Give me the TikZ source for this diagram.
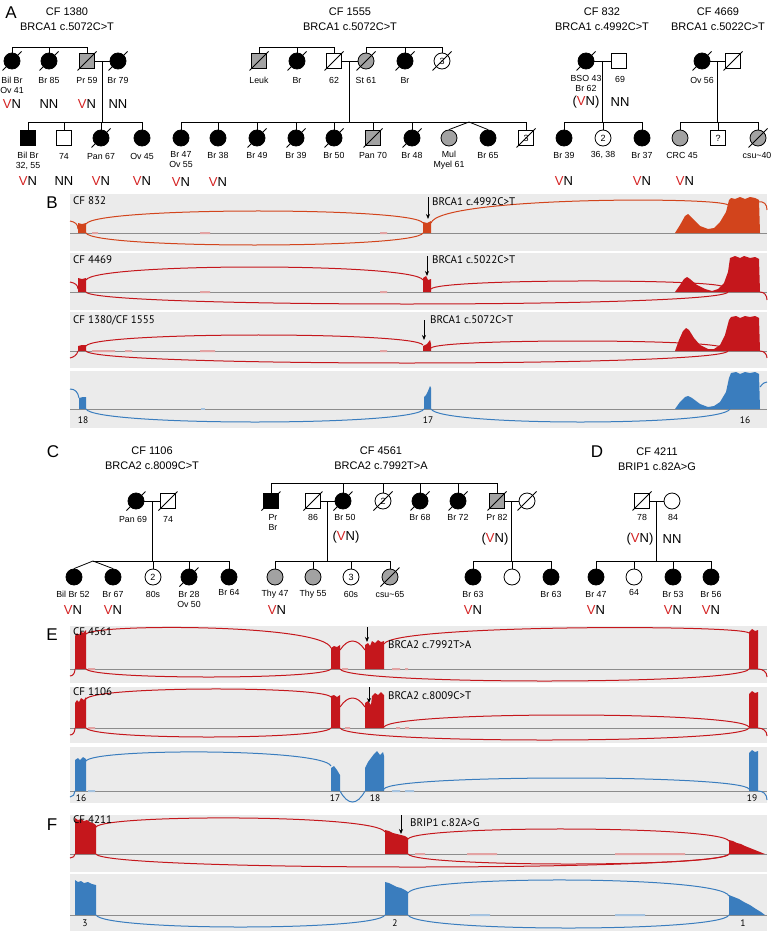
\documentclass[tikz,border=0pt]{standalone}
\usepackage{fontspec}
\setmainfont{Liberation Sans}
\newfontfamily\trkfont{PT Sans}
\usetikzlibrary{calc,arrows.meta}
\definecolor{trackbg}{HTML}{EBEBEB}
\definecolor{basec}{HTML}{8C8C8C}
\definecolor{rB}{HTML}{D2441C}
\definecolor{rr}{HTML}{C5171C}
\definecolor{bb}{HTML}{3A7DBE}
\definecolor{blipR}{HTML}{E3A3A3}
\definecolor{blipB}{HTML}{A5C3E0}
\definecolor{pedgrey}{HTML}{A2A2A2}
\definecolor{vred}{HTML}{D42222}
\tikzset{
 pl/.style={line width=0.8pt},
 male/.style={draw, line width=0.8pt, rectangle, minimum size=15.5pt, inner sep=0pt, fill=white, font=\fontsize{9}{9}\selectfont},
 fem/.style={draw, line width=0.8pt, circle, minimum size=16pt, inner sep=0pt, fill=white, font=\fontsize{9}{9}\selectfont},
 aff/.style={fill=black},
 gry/.style={fill=pedgrey},
 lab/.style={font=\fontsize{8.8}{10}\selectfont, inner sep=0pt, align=center},
 ttl/.style={font=\fontsize{11}{13}\selectfont, inner sep=0pt},
 vn/.style={font=\fontsize{13}{14}\selectfont, inner sep=0pt},
 plab/.style={font=\fontsize{17}{18}\selectfont, inner sep=0pt},
 tl/.style={font=\trkfont\fontsize{11}{12}\selectfont, inner sep=0pt, anchor=west},
 tn/.style={font=\trkfont\fontsize{9.5}{10}\selectfont, inner sep=0pt},
 arc/.style={line width=1pt},
 mut/.style={line width=0.8pt, -{Stealth[length=5pt,width=4pt]}},
}
\newcounter{nn}
\newcommand\Tx[3]{\stepcounter{nn}\edef\nname{t\arabic{nn}}\node[#1] (\nname) at (#2) {#3};}
\newcommand\vnV[1]{\Tx{vn}{#1}{\textcolor{vred}{V}N}}
\newcommand\vnP[1]{\Tx{vn}{#1}{(\textcolor{vred}{V}N)}}
\newcommand\vnN[1]{\Tx{vn}{#1}{NN}}
\newcommand\pdec[1]{\draw[pl] ([shift={(-9.5,9.5)}]#1.center) -- ([shift={(9.5,-9.5)}]#1.center);}
\newcommand\pup[2]{\draw[pl] (#1.north) -- (#1.north |- #2);}
\newcommand\jarc[6]{\pgfmathsetmacro\cyy{(4*(#6)-0.5*((#3)+(#5)))/3}\draw[arc,#1] (#2,#3) .. controls ({#2+8},\cyy) and ({#4-8},\cyy) .. (#4,#5);}
\newcommand\trackbox[3]{\fill[trackbg] (70,#1) rectangle (767,#2); \draw[basec, line width=0.6pt] (70,#3) -- (767,#3);}
\begin{document}
\begin{tikzpicture}[x=1pt,y=-1pt]
\useasboundingbox (0,0) rectangle (774,931);
\fill[white] (0,0) rectangle (774,931);
% ================= PANEL A =================
\Tx{plab}{11,13}{A}
% ---- CF 1380
\Tx{ttl}{67,12}{CF 1380}
\Tx{ttl}{67,27}{BRCA1 c.5072C>T}
\coordinate (Asib) at (0,47);
\coordinate (Akid) at (0,122);
\node[fem,aff] (a1) at (12,61) {};
\node[fem,aff] (a2) at (49,61) {};
\node[male,gry] (a3) at (87,61) {};
\node[fem,aff] (a4) at (118,61) {};
\node[male,aff] (a5) at (28,138) {};
\node[male] (a6) at (64,138) {};
\node[fem,aff] (a7) at (101,138) {};
\node[fem,aff] (a8) at (142,138) {};
\draw[pl] (a1.north |- Asib) -- (a3.north |- Asib);
\pup{a1}{Asib}\pup{a2}{Asib}\pup{a3}{Asib}
\draw[pl] (a3.east) -- (a4.west);
\coordinate (a34) at ($(a3.east)!0.5!(a4.west)$);
\draw[pl] (a34) -- (a34 |- Akid);
\draw[pl] (a5.north |- Akid) -- (a8.north |- Akid);
\pup{a5}{Akid}\pup{a6}{Akid}\pup{a7}{Akid}\pup{a8}{Akid}
\pdec{a1}\pdec{a2}\pdec{a3}\pdec{a4}\pdec{a7}
\Tx{lab}{12,85}{Bil Br\\Ov 41}
\Tx{lab}{49,80}{Br 85}
\Tx{lab}{87,80}{Pr 59}
\Tx{lab}{118,80}{Br 79}
\vnV{12,104}\vnN{49,104}\vnV{87,104}\vnN{118,104}
\Tx{lab}{28,161}{Bil Br\\32, 55}
\Tx{lab}{64,156}{74}
\Tx{lab}{101,156}{Pan 67}
\Tx{lab}{142,156}{Ov 45}
\vnV{28,181}\vnN{64,181}\vnV{101,181}\vnV{142,181}
% ---- CF 1555
\Tx{ttl}{350,12}{CF 1555}
\Tx{ttl}{350,27}{BRCA1 c.5072C>T}
\node[male,gry] (b1) at (259,61) {};
\node[fem,aff] (b2) at (297,61) {};
\node[male] (b3) at (334,61) {};
\node[fem,gry] (b4) at (366,61) {};
\node[fem,aff] (b5) at (405,61) {};
\node[fem] (b6) at (442,61) {3};
\node[fem,aff] (b7) at (181,138) {};
\node[fem,aff] (b8) at (218,138) {};
\node[fem,aff] (b9) at (257,138) {};
\node[fem,aff] (b10) at (296,138) {};
\node[fem,aff] (b11) at (334,138) {};
\node[male,gry] (b12) at (373,138) {};
\node[fem,aff] (b13) at (412,138) {};
\node[fem,gry] (b14) at (449,138) {};
\node[fem,aff] (b15) at (488,138) {};
\node[male] (b16) at (526,138) {3};
\draw[pl] (b1.north |- Asib) -- (b3.north |- Asib);
\draw[pl] (b4.north |- Asib) -- (b6.north |- Asib);
\pup{b1}{Asib}\pup{b2}{Asib}\pup{b3}{Asib}\pup{b4}{Asib}\pup{b5}{Asib}\pup{b6}{Asib}
\draw[pl] (b3.east) -- (b4.west);
\coordinate (b34) at ($(b3.east)!0.5!(b4.west)$);
\draw[pl] (b34) -- (b34 |- Akid);
\draw[pl] (b7.north |- Akid) -- (b16.north |- Akid);
\pup{b7}{Akid}\pup{b8}{Akid}\pup{b9}{Akid}\pup{b10}{Akid}\pup{b11}{Akid}\pup{b12}{Akid}\pup{b13}{Akid}\pup{b16}{Akid}
\coordinate (btw) at (469,122);
\draw[pl] (b14.north) -- (btw) -- (b15.north);
\pdec{b1}\pdec{b2}\pdec{b3}\pdec{b4}\pdec{b5}\pdec{b6}\pdec{b9}\pdec{b10}\pdec{b11}\pdec{b12}\pdec{b13}\pdec{b16}
\Tx{lab}{259,80}{Leuk}
\Tx{lab}{297,80}{Br}
\Tx{lab}{334,80}{62}
\Tx{lab}{366,80}{St 61}
\Tx{lab}{405,80}{Br}
\Tx{lab}{181,160}{Br 47\\Ov 55}
\Tx{lab}{218,155}{Br 38}
\Tx{lab}{257,155}{Br 49}
\Tx{lab}{296,155}{Br 39}
\Tx{lab}{334,155}{Br 50}
\Tx{lab}{373,155}{Pan 70}
\Tx{lab}{412,155}{Br 48}
\Tx{lab}{449,160}{Mul\\Myel 61}
\Tx{lab}{488,155}{Br 65}
\vnV{181,182}\vnV{218,182}
% ---- CF 832
\Tx{ttl}{602,12}{CF 832}
\Tx{ttl}{602,27}{BRCA1 c.4992C>T}
\node[fem,aff] (c1) at (586,61) {};
\node[male] (c2) at (619,61) {};
\node[fem,aff] (c3) at (564,138) {};
\node[fem] (c4) at (603,138) {2};
\node[fem,aff] (c5) at (642,138) {};
\draw[pl] (c1.east) -- (c2.west);
\coordinate (c12) at ($(c1.east)!0.5!(c2.west)$);
\draw[pl] (c12) -- (c12 |- Akid);
\draw[pl] (c3.north |- Akid) -- (c5.north |- Akid);
\pup{c3}{Akid}\pup{c4}{Akid}\pup{c5}{Akid}
\pdec{c1}
\Tx{lab}{586,83.5}{BSO 43\\Br 62}
\Tx{lab}{620,79}{69}
\vnP{586,102}\vnN{620,102}
\Tx{lab}{564,155}{Br 39}
\Tx{lab}{603,155}{36, 38}
\Tx{lab}{642,155}{Br 37}
\vnV{564,181}\vnV{642,181}
% ---- CF 4669
\Tx{ttl}{718,12}{CF 4669}
\Tx{ttl}{718,27}{BRCA1 c.5022C>T}
\node[fem,aff] (d1) at (702,61) {};
\node[male] (d2) at (733,61) {};
\node[fem,gry] (d3) at (680,138) {};
\node[male] (d4) at (718,138) {?};
\node[fem,gry] (d5) at (758,138) {};
\draw[pl] (d1.east) -- (d2.west);
\coordinate (d12) at ($(d1.east)!0.5!(d2.west)$);
\draw[pl] (d12) -- (d12 |- Akid);
\draw[pl] (d3.north |- Akid) -- (d5.north |- Akid);
\pup{d3}{Akid}\pup{d4}{Akid}\pup{d5}{Akid}
\pdec{d1}\pdec{d2}\pdec{d5}
\Tx{lab}{702,80}{Ov 56}
\Tx{lab}{682,155}{CRC 45}
\Tx{lab}{757,155}{csu\textasciitilde 40}
\vnV{685,181}
% ================= PANEL B =================
\Tx{plab}{52,203}{B}
% B1
\trackbox{194}{251}{233}
\fill[blipR] (92,232) rectangle (98,234) (200,232) rectangle (210,234) (380,232) rectangle (387,234);
\fill[rB] (78,233) -- (78,223) -- (82,224) -- (86,223) -- (86,233) -- cycle;
\fill[rB] (423,233) -- (423,222) -- (427,223) -- (431,221) -- (431,233) -- cycle;
\fill[rB] (675,233) -- (680,225) -- (685,216) -- (688,214) -- (692,218) -- (700,226) -- (708,229) -- (714,228) -- (720,222) -- (726,212) -- (729,200) -- (731,198) -- (735,199) -- (740,197) -- (745,199) -- (750,197) -- (755,198) -- (759,200) -- (760,233) -- cycle;
\jarc{rB}{86}{224}{423}{223}{211}
\jarc{rB}{86}{233}{423}{233}{245}
\jarc{rB}{431}{223}{728}{205}{201}
\draw[arc,rB] (70,221) .. controls (75,222) and (78,224) .. (78,229);
\draw[arc,rB] (758,202) .. controls (764,201) and (767,204) .. (767,210);
\Tx{tl}{73,201}{CF 832}
\coordinate (m1s) at (428,197); \coordinate (m1e) at (428,219);
\draw[mut] (m1s) -- (m1e);
\Tx{tl}{432,202}{BRCA1 c.4992C>T}
% B2
\trackbox{253}{310}{292}
\fill[blipR] (200,291) rectangle (210,293) (380,291) rectangle (387,293);
\fill[rr] (78,292) -- (78,278) -- (82,279) -- (86,278) -- (86,292) -- cycle;
\fill[rr] (423,292) -- (423,278) -- (426,276) -- (428,280) -- (431,279) -- (431,292) -- cycle;
\fill[rr] (675,292) -- (680,285) -- (684,279) -- (687,277) -- (690,279) -- (697,285) -- (705,289) -- (712,291) -- (718,289) -- (724,283) -- (728,272) -- (730,258) -- (735,256) -- (740,258) -- (744,256) -- (750,258) -- (755,257) -- (759,259) -- (760,292) -- cycle;
\jarc{rr}{86}{280}{423}{280}{267}
\jarc{rr}{431}{289}{724}{287}{281}
\jarc{rr}{86}{292}{728}{292}{304}
\draw[arc,rr] (70,282) .. controls (75,283) and (78,285) .. (78,289);
\draw[arc,rr] (760,292) .. controls (764,292) and (767,295) .. (767,300);
\Tx{tl}{73,260}{CF 4469}
\coordinate (m2s) at (427,256); \coordinate (m2e) at (427,276);
\draw[mut] (m2s) -- (m2e);
\Tx{tl}{432,260}{BRCA1 c.5022C>T}
% B3
\trackbox{312}{368}{351}
\fill[blipR] (92,350) rectangle (115,352) (125,350) rectangle (132,352) (200,350) rectangle (215,352) (380,350) rectangle (387,352);
\fill[rr] (78,351) -- (78,346) -- (82,345) -- (86,345) -- (86,351) -- cycle;
\fill[rr] (423,351) -- (423,346) -- (427,344) -- (430,340) -- (431,344) -- (431,351) -- cycle;
\fill[rr] (675,351) -- (679,340) -- (683,331) -- (686,328) -- (689,330) -- (694,338) -- (700,345) -- (708,349) -- (714,349) -- (720,345) -- (725,335) -- (729,320) -- (731,317) -- (736,316) -- (740,318) -- (745,316) -- (750,317) -- (755,316) -- (759,318) -- (760,351) -- cycle;
\jarc{rr}{86}{346}{423}{345}{335}
\jarc{rr}{431}{348}{724}{348}{341}
\jarc{rr}{86}{351}{728}{351}{363}
\draw[arc,rr] (70,358) .. controls (74,357) and (77,355) .. (78,351);
\draw[arc,rr] (760,351) .. controls (764,351) and (767,354) .. (767,358);
\Tx{tl}{73,320}{CF 1380/CF 1555}
\coordinate (m3s) at (424,320); \coordinate (m3e) at (424,340);
\draw[mut] (m3s) -- (m3e);
\Tx{tl}{430,320}{BRCA1 c.5072C>T}
% B4
\trackbox{371}{428}{409}
\fill[blipB] (201,408) rectangle (205,410);
\fill[bb] (79,409) -- (79,398) -- (83,397) -- (86,397) -- (86,409) -- cycle;
\fill[bb] (424,409) -- (424,397) -- (426,395) -- (428,391) -- (430,386) -- (431,388) -- (431,409) -- cycle;
\fill[bb] (675,409) -- (680,402) -- (685,397) -- (688,396) -- (692,398) -- (700,404) -- (708,407) -- (714,406) -- (720,402) -- (726,392) -- (729,378) -- (731,373) -- (736,372) -- (740,374) -- (745,372) -- (750,373) -- (755,372) -- (759,374) -- (760,409) -- cycle;
\jarc{bb}{86}{409}{424}{409}{422}
\jarc{bb}{431}{409}{730}{409}{422}
\draw[arc,bb] (70,389) .. controls (75,389) and (78,392) .. (79,398);
\draw[arc,bb] (760,387) .. controls (763,383) and (765,382) .. (767,382);
\Tx{tn}{83,420}{18}
\Tx{tn}{428,420}{17}
\Tx{tn}{745,420}{16}
% ================= PANEL C / D =================
\Tx{plab}{53,452}{C}
\Tx{ttl}{152,451}{CF 1106}
\Tx{ttl}{152,466}{BRCA2 c.8009C>T}
\coordinate (Csib) at (0,483);
\coordinate (Ckid) at (0,561);
\node[fem,aff] (e1) at (136,501) {};
\node[male] (e2) at (168,501) {};
\node[fem,aff] (e3) at (74,577) {};
\node[fem,aff] (e4) at (113,577) {};
\node[fem] (e5) at (153,577) {2};
\node[fem,aff] (e6) at (189,577) {};
\node[fem,aff] (e7) at (229,577) {};
\draw[pl] (e1.east) -- (e2.west);
\coordinate (e12) at ($(e1.east)!0.5!(e2.west)$);
\draw[pl] (e12) -- (e12 |- Ckid);
\coordinate (etw) at (93,561);
\draw[pl] (etw) -- (e7.north |- Ckid);
\draw[pl] (e3.north) -- (etw) -- (e4.north);
\pup{e5}{Ckid}\pup{e6}{Ckid}\pup{e7}{Ckid}
\pdec{e1}\pdec{e2}\pdec{e6}
\Tx{lab}{133,519}{Pan 69}
\Tx{lab}{168,519}{74}
\Tx{lab}{73,594}{Bil Br 52}
\Tx{lab}{113,594}{Br 67}
\Tx{lab}{153,594}{80s}
\Tx{lab}{189,599}{Br 28\\Ov 50}
\Tx{lab}{229,592}{Br 64}
\vnV{73,610}\vnV{113,610}
% ---- CF 4561
\Tx{ttl}{381,451}{CF 4561}
\Tx{ttl}{381,466}{BRCA2 c.7992T>A}
\node[male,aff] (g1) at (271,501) {};
\node[male] (g2) at (313,501) {};
\node[fem,aff] (g3) at (343,501) {};
\node[fem] (g4) at (383,501) {2};
\node[fem,aff] (g5) at (420,501) {};
\node[fem,aff] (g6) at (458,501) {};
\node[male,gry] (g7) at (497,501) {};
\node[fem] (g8) at (527,501) {};
\node[fem,gry] (g9) at (275,577) {};
\node[fem,gry] (g10) at (313,577) {};
\node[fem] (g11) at (351,577) {3};
\node[fem,gry] (g12) at (390,577) {};
\node[fem,aff] (g13) at (473,577) {};
\node[fem] (g14) at (512,577) {};
\node[fem,aff] (g15) at (551,577) {};
\draw[pl] (g1.north |- Csib) -- (g7.north |- Csib);
\pup{g1}{Csib}\pup{g3}{Csib}\pup{g4}{Csib}\pup{g5}{Csib}\pup{g6}{Csib}\pup{g7}{Csib}
\draw[pl] (g2.east) -- (g3.west);
\coordinate (g23) at ($(g2.east)!0.5!(g3.west)$);
\draw[pl] (g23) -- (g23 |- Ckid);
\draw[pl] (g7.east) -- (g8.west);
\coordinate (g78) at ($(g7.east)!0.5!(g8.west)$);
\draw[pl] (g78) -- (g78 |- Ckid);
\draw[pl] (g9.north |- Ckid) -- (g12.north |- Ckid);
\draw[pl] (g13.north |- Ckid) -- (g15.north |- Ckid);
\pup{g9}{Ckid}\pup{g10}{Ckid}\pup{g11}{Ckid}\pup{g12}{Ckid}\pup{g13}{Ckid}\pup{g14}{Ckid}\pup{g15}{Ckid}
\pdec{g1}\pdec{g2}\pdec{g3}\pdec{g4}\pdec{g5}\pdec{g6}\pdec{g7}\pdec{g8}\pdec{g12}
\Tx{lab}{273,522}{Pr\\Br}
\Tx{lab}{313,517}{86}
\Tx{lab}{345,517}{Br 50}
\Tx{lab}{420,517}{Br 68}
\Tx{lab}{458,517}{Br 72}
\Tx{lab}{497,517}{Pr 82}
\vnP{346,537}\vnP{495,539}
\Tx{lab}{275,594}{Thy 47}
\Tx{lab}{313,594}{Thy 55}
\Tx{lab}{351,594}{60s}
\Tx{lab}{390,594}{csu\textasciitilde 65}
\Tx{lab}{473,594}{Br 63}
\Tx{lab}{551,594}{Br 63}
\vnV{277,610}\vnV{473,610}
% ---- CF 4211
\Tx{plab}{597,452}{D}
\Tx{ttl}{657,452}{CF 4211}
\Tx{ttl}{657,467}{BRIP1 c.82A>G}
\node[male] (h1) at (642,501) {};
\node[fem] (h2) at (672,501) {};
\node[fem,aff] (h3) at (596,577) {};
\node[fem] (h4) at (634,577) {};
\node[fem,aff] (h5) at (673,577) {};
\node[fem,aff] (h6) at (711,577) {};
\draw[pl] (h1.east) -- (h2.west);
\coordinate (h12) at ($(h1.east)!0.5!(h2.west)$);
\draw[pl] (h12) -- (h12 |- Ckid);
\draw[pl] (h3.north |- Ckid) -- (h6.north |- Ckid);
\pup{h3}{Ckid}\pup{h4}{Ckid}\pup{h5}{Ckid}\pup{h6}{Ckid}
\pdec{h1}
\Tx{lab}{642,517}{78}
\Tx{lab}{673,517}{84}
\vnP{640,539}\vnN{672,539}
\Tx{lab}{596,594}{Br 47}
\Tx{lab}{634,592}{64}
\Tx{lab}{673,594}{Br 53}
\Tx{lab}{711,594}{Br 56}
\vnV{596,610}\vnV{673,610}\vnV{711,610}
% ================= PANEL E =================
\Tx{plab}{52,635}{E}
% E1
\trackbox{626}{683}{669}
\fill[blipR] (88,668) rectangle (95,670) (342,668) rectangle (348,670) (392,668) rectangle (400,670) (405,668) rectangle (408,670);
\fill[rr] (75,669) -- (75,636) -- (77,633) -- (79,635) -- (81,631) -- (83,633) -- (86,630) -- (86,669) -- cycle;
\fill[rr] (331,669) -- (331,648) -- (334,646) -- (337,647) -- (340,645) -- (340,669) -- cycle;
\fill[rr] (365,669) -- (365,645) -- (368,643) -- (370,646) -- (372,641) -- (375,643) -- (378,640) -- (381,642) -- (384,641) -- (384,669) -- cycle;
\fill[rr] (749,669) -- (749,632) -- (752,629) -- (755,631) -- (758,630) -- (758,669) -- cycle;
\jarc{rr}{86}{634}{331}{648}{628}
\jarc{rr}{340}{650}{365}{650}{641}
\jarc{rr}{384}{644}{749}{633}{628}
\jarc{rr}{86}{669}{331}{669}{677}
\jarc{rr}{340}{669}{749}{669}{681}
\draw[arc,rr] (70,676) .. controls (73,676) and (75,673) .. (75,669);
\draw[arc,rr] (758,669) .. controls (763,669) and (767,672) .. (767,677);
\Tx{tl}{73,632}{CF 4561}
\coordinate (m4s) at (367,627); \coordinate (m4e) at (367,642);
\draw[mut] (m4s) -- (m4e);
\Tx{tl}{388,645}{BRCA2 c.7992T>A}
% E2
\trackbox{687}{743}{728}
\fill[blipR] (88,727) rectangle (95,729) (345,727) rectangle (350,729) (396,727) rectangle (400,729) (405,727) rectangle (409,729);
\fill[rr] (75,728) -- (75,703) -- (77,700) -- (79,702) -- (81,698) -- (84,700) -- (86,697) -- (86,728) -- cycle;
\fill[rr] (331,728) -- (331,696) -- (334,695) -- (337,697) -- (340,695) -- (340,728) -- cycle;
\fill[rr] (365,728) -- (365,703) -- (368,701) -- (371,705) -- (372,696) -- (375,693) -- (378,695) -- (381,692) -- (384,695) -- (384,728) -- cycle;
\fill[rr] (749,728) -- (749,694) -- (752,691) -- (755,693) -- (758,692) -- (758,728) -- cycle;
\jarc{rr}{86}{699}{331}{697}{689}
\jarc{rr}{340}{707}{365}{707}{698}
\jarc{rr}{384}{727}{749}{727}{715}
\jarc{rr}{86}{728}{331}{728}{737}
\jarc{rr}{340}{728}{749}{728}{740}
\draw[arc,rr] (70,735) .. controls (73,735) and (75,732) .. (75,728);
\draw[arc,rr] (758,728) .. controls (763,728) and (767,731) .. (767,736);
\Tx{tl}{73,692}{CF 1106}
\coordinate (m5s) at (369,687); \coordinate (m5e) at (369,703);
\draw[mut] (m5s) -- (m5e);
\Tx{tl}{388,696}{BRCA2 c.8009C>T}
% E3
\trackbox{747}{803}{791}
\fill[blipB] (88,790) rectangle (95,792) (392,790) rectangle (400,792) (405,790) rectangle (414,792);
\fill[bb] (75,791) -- (75,760) -- (78,758) -- (80,760) -- (83,757) -- (86,759) -- (86,791) -- cycle;
\fill[bb] (331,791) -- (331,768) -- (334,766) -- (337,770) -- (340,775) -- (340,791) -- cycle;
\fill[bb] (365,791) -- (365,768) -- (368,762) -- (371,758) -- (374,754) -- (377,751) -- (380,755) -- (383,752) -- (384,756) -- (384,791) -- cycle;
\fill[bb] (749,791) -- (749,753) -- (752,750) -- (755,752) -- (758,751) -- (758,791) -- cycle;
\jarc{bb}{86}{761}{331}{766}{752}
\jarc{bb}{340}{791}{365}{791}{802}
\jarc{bb}{384}{789}{749}{789}{778}
\draw[arc,bb] (70,797) .. controls (73,797) and (75,794) .. (75,791);
\draw[arc,bb] (758,791) .. controls (763,791) and (767,794) .. (767,800);
\Tx{tn}{81,798}{16}
\Tx{tn}{335,798}{17}
\Tx{tn}{375,798}{18}
\Tx{tn}{752,798}{19}
% ================= PANEL F =================
\Tx{plab}{52,825}{F}
% F1
\trackbox{815}{872}{854}
\fill[blipR] (415,853) rectangle (425,855) (467,853) rectangle (497,855) (615,853) rectangle (685,855);
\fill[rr] (75,854) -- (75,818) -- (78,820) -- (81,819) -- (84,821) -- (87,820) -- (90,822) -- (93,823) -- (96,825) -- (96,854) -- cycle;
\fill[rr] (385,854) -- (385,830) -- (389,831) -- (393,833) -- (397,834) -- (401,835) -- (405,836) -- (408,838) -- (408,854) -- cycle;
\fill[rr] (729,854) -- (729,840) -- (733,841) -- (737,843) -- (741,844) -- (745,846) -- (750,848) -- (755,850) -- (760,852) -- (765,854) -- cycle;
\jarc{rr}{96}{827}{385}{832}{818}
\jarc{rr}{408}{839}{729}{841}{829}
\jarc{rr}{96}{854}{729}{854}{867}
\jarc{rr}{408}{854}{729}{854}{864}
\draw[arc,rr] (70,858) .. controls (73,858) and (75,856) .. (75,854);
\Tx{tl}{73,820}{CF 4211}
\coordinate (m6s) at (401,815); \coordinate (m6e) at (401,834);
\draw[mut] (m6s) -- (m6e);
\Tx{tl}{410,823}{BRIP1 c.82A>G}
% F2
\trackbox{874}{931}{915}
\fill[blipB] (470,914) rectangle (490,916) (615,914) rectangle (645,916);
\fill[bb] (75,915) -- (75,880) -- (78,882) -- (81,881) -- (84,883) -- (88,882) -- (92,884) -- (96,885) -- (96,915) -- cycle;
\fill[bb] (385,915) -- (385,882) -- (389,883) -- (393,885) -- (397,887) -- (401,888) -- (405,890) -- (408,892) -- (408,915) -- cycle;
\fill[bb] (729,915) -- (729,895) -- (734,897) -- (739,899) -- (744,902) -- (750,905) -- (756,909) -- (761,912) -- (765,915) -- cycle;
\jarc{bb}{96}{915}{385}{915}{927}
\jarc{bb}{408}{893}{729}{896}{880}
\jarc{bb}{408}{915}{729}{915}{928}
\Tx{tn}{85,923}{3}
\Tx{tn}{395,923}{2}
\Tx{tn}{743,923}{1}
\end{tikzpicture}
\end{document}
